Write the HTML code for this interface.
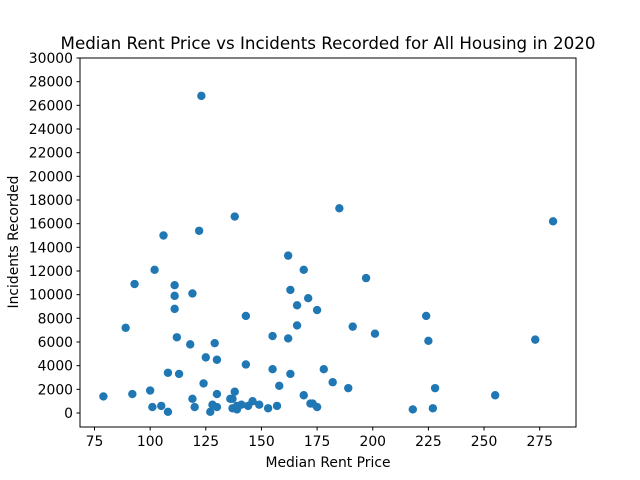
<!DOCTYPE html>
<html><head><meta charset="utf-8"><style>
body{margin:0;background:#fff}
svg{display:block;font-family:"DejaVu Sans","Liberation Sans",sans-serif}
</style></head><body>
<svg id="chart" width="640" height="480">
<rect width="640" height="480" fill="#fff"/>
<text x="328" y="49" text-anchor="middle" font-size="16.7">Median Rent Price vs Incidents Recorded for All Housing in 2020</text>
<text x="328" y="467" text-anchor="middle" font-size="13.9">Median Rent Price</text>
<text transform="translate(18,242) rotate(-90)" text-anchor="middle" font-size="13.9">Incidents Recorded</text>
<g id="ticks"></g>
<g id="points"></g>
<rect x="80" y="58" width="496" height="369" fill="none" stroke="#000" stroke-width="1"/>
</svg>
<script>
const rentPrices=[79,89,92,93,100,101,102,105,106,108,108,111,111,111,112,113,118,119,119,120,122,123,124,125,127,128,129,130,130,130,136,137,137,138,138,139,139,141,143,143,144,146,149,153,155,155,157,158,162,162,163,163,166,166,169,169,171,172,173,175,175,178,182,185,189,191,197,201,218,224,225,227,228,255,273,281];
const incidents=[1400,7200,1600,10900,1900,500,12100,600,15000,3400,100,10800,9900,8800,6400,3300,5800,1200,10100,500,15400,26800,2500,4700,100,700,5900,4500,1600,500,1200,1200,400,1800,16600,300,600,700,4100,8200,600,1000,700,400,3700,6500,600,2300,13300,6300,3300,10400,9100,7400,12100,1500,9700,800,800,8700,500,3700,2600,17300,2100,7300,11400,6700,300,8200,6100,400,2100,1500,6200,16200];
const xTicks=[75,100,125,150,175,200,225,250,275];
const yTicks=[0,2000,4000,6000,8000,10000,12000,14000,16000,18000,20000,22000,24000,26000,28000,30000];
const NS="http://www.w3.org/2000/svg";
function xs(v){return 94.5+(v-75)*2.226;}
function ys(v){return 413-(v)*355/30000;}
const tg=document.getElementById('ticks');
xTicks.forEach(t=>{
 const l=document.createElementNS(NS,'line');
 l.setAttribute('x1',xs(t));l.setAttribute('x2',xs(t));l.setAttribute('y1',427);l.setAttribute('y2',430.5);l.setAttribute('stroke','#000');
 
 
 tg.appendChild(l);
 const s=document.createElementNS(NS,'text');
 s.setAttribute('x',xs(t));s.setAttribute('y',446);s.setAttribute('text-anchor','middle');s.setAttribute('font-size','13.9');
 s.textContent=t;
 
 
 tg.appendChild(s);
});
yTicks.forEach(t=>{
 const l=document.createElementNS(NS,'line');
 l.setAttribute('x1',76.5);l.setAttribute('x2',80);l.setAttribute('y1',ys(t));l.setAttribute('y2',ys(t));l.setAttribute('stroke','#000');
 
 
 tg.appendChild(l);
 const s=document.createElementNS(NS,'text');
 s.setAttribute('x',73);s.setAttribute('y',ys(t)+5);s.setAttribute('text-anchor','end');s.setAttribute('font-size','13.9');
 s.textContent=t;
 
 
 tg.appendChild(s);
});
const pg=document.getElementById('points');
rentPrices.forEach((r,i)=>{
 const c=document.createElementNS(NS,'circle');
 c.setAttribute('cx',xs(r));c.setAttribute('cy',ys(incidents[i]));c.setAttribute('r',4.2);c.setAttribute('fill','#1f77b4');
 
 
 pg.appendChild(c);
});
</script>
</body></html>
